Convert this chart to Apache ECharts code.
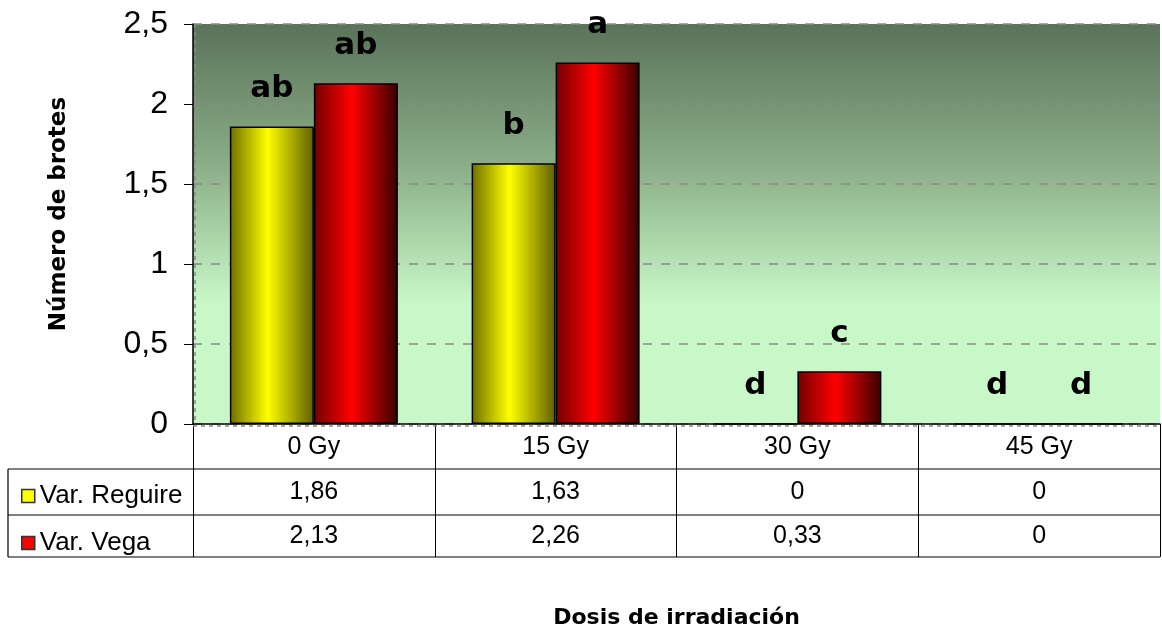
<!DOCTYPE html>
<html>
<head>
<meta charset="utf-8">
<script src="https://cdn.jsdelivr.net/npm/echarts@6/dist/echarts.min.js"></script>
<style>
  html, body { margin: 0; padding: 0; background: #fff; }
  #chart { width: 1162px; height: 628px; }
</style>
</head>
<body>
<div id="chart"></div>
<script>
// datos
const categories = ["0 Gy", "15 Gy", "30 Gy", "45 Gy"];
const reguire = [1.86, 1.63, 0, 0];
const vega = [2.13, 2.26, 0.33, 0];
const reguireLetters = ["ab", "b", "d", "d"];
const vegaLetters = ["ab", "a", "c", "d"];
const yTickLabels = ["0", "0,5", "1", "1,5", "2", "2,5"];

const sansFont = "Liberation Sans";
const titleFont = "DejaVu Sans";

function fmt(v) {
  return String(v).replace(".", ",");
}

function barGradient(dark1, light, dark2) {
  return {
    type: "linear", x: 0, y: 0, x2: 1, y2: 0,
    colorStops: [
      { offset: 0, color: dark1 },
      { offset: 0.45, color: light },
      { offset: 1, color: dark2 }
    ]
  };
}

const letterLabel = (letters) => ({
  show: true,
  position: "top",
  distance: 22,
  fontFamily: titleFont,
  fontWeight: "bold",
  fontSize: 31,
  color: "#000",
  formatter: (p) => letters[p.dataIndex]
});

let option = {
  animation: false,
  grid: {
    left: 193,
    right: 2,
    top: 24,
    bottom: 204,
    outerBoundsMode: "none",
    containLabel: false,
    show: true,
    borderWidth: 0,
    backgroundColor: {
      type: "linear", x: 0, y: 0, x2: 0, y2: 1,
      colorStops: [
        { offset: 0, color: "#5a735a" },
        { offset: 0.35, color: "#8aad87" },
        { offset: 0.7, color: "#c8f8c8" },
        { offset: 1, color: "#c8f8c8" }
      ]
    }
  },
  legend: {
    orient: "vertical",
    left: 16,
    top: 478,
    icon: "rect",
    itemWidth: 13,
    itemHeight: 13,
    itemGap: 21,
    textStyle: {
      fontFamily: sansFont,
      fontSize: 26,
      lineHeight: 25,
      color: "#000"
    },
    data: [
      { name: "Var. Reguire", itemStyle: { color: "#ffff00", borderColor: "#333", borderWidth: 1.5 } },
      { name: "Var. Vega", itemStyle: { color: "#ff0000", borderColor: "#333", borderWidth: 1.5 } }
    ]
  },
  xAxis: {
    type: "category",
    data: categories,
    name: "Dosis de irradiación",
    nameLocation: "middle",
    nameGap: 183,
    nameTextStyle: {
      fontFamily: titleFont,
      fontWeight: "bold",
      fontSize: 22,
      color: "#000"
    },
    axisLine: { lineStyle: { color: "#000", width: 1.5 } },
    axisTick: { show: true, length: 133, lineStyle: { color: "#000", width: 1 } },
    axisLabel: {
      margin: 11,
      fontFamily: sansFont,
      fontSize: 25,
      color: "#000"
    },
    splitLine: { show: false }
  },
  yAxis: {
    type: "value",
    min: 0,
    max: 2.5,
    interval: 0.5,
    name: "Número de brotes",
    nameLocation: "middle",
    nameGap: 122,
    nameTextStyle: {
      fontFamily: titleFont,
      fontWeight: "bold",
      fontSize: 23,
      color: "#000",
      padding: [0, 0, 0, 20]
    },
    axisLine: { show: true, lineStyle: { color: "#000", width: 1.5 } },
    axisTick: { show: true, length: 9, lineStyle: { color: "#000" } },
    axisLabel: {
      margin: 25,
      fontFamily: sansFont,
      fontSize: 32,
      color: "#000",
      formatter: (v, i) => yTickLabels[i]
    },
    splitLine: { show: true, lineStyle: { color: "#8a8a8a", type: [9, 9], width: 1.5 } }
  },
  series: [
    {
      name: "Var. Reguire",
      type: "bar",
      barWidth: 84,
      barGap: "0%",
      itemStyle: {
        color: barGradient("#6e6e00", "#ffff00", "#5e5e00"),
        borderColor: "#000",
        borderWidth: 1.5
      },
      label: letterLabel(reguireLetters),
      data: reguire
    },
    {
      name: "Var. Vega",
      type: "bar",
      barWidth: 84,
      barGap: "0%",
      itemStyle: {
        color: barGradient("#700000", "#ff0000", "#380000"),
        borderColor: "#000",
        borderWidth: 1.5
      },
      label: letterLabel(vegaLetters),
      data: vega
    }
  ]
};

let myChart = echarts.init(document.getElementById("chart"));
myChart.setOption(option);

// tabla de datos debajo del eje
const rowY = [492, 536];
const rows = [reguire, vega];
let elements = [];
[469, 515, 557].forEach((y) => {
  elements.push({
    type: "line",
    shape: { x1: 8, y1: y, x2: 1160, y2: y },
    style: { stroke: "#000", lineWidth: 1.2 }
  });
});
elements.push({
  type: "line",
  shape: { x1: 8, y1: 469, x2: 8, y2: 557 },
  style: { stroke: "#000", lineWidth: 1.2 }
});
// borde punteado del área de trazado
elements.push({
  type: "line",
  shape: { x1: 195, y1: 24, x2: 195, y2: 423 },
  style: { stroke: "#8a8a8a", lineWidth: 1.5, lineDash: [4, 4] },
  z: 5
});
elements.push({
  type: "line",
  shape: { x1: 193, y1: 426, x2: 1160, y2: 426 },
  style: { stroke: "#8a8a8a", lineWidth: 1.5, lineDash: [4, 4] },
  z: 5
});
rows.forEach((vals, r) => {
  vals.forEach((v, i) => {
    let x = myChart.convertToPixel({ xAxisIndex: 0 }, categories[i]);
    elements.push({
      type: "text",
      x: x,
      y: rowY[r],
      style: {
        text: fmt(v),
        fontFamily: sansFont,
        fontSize: 25,
        fill: "#000",
        align: "center",
        verticalAlign: "middle"
      }
    });
  });
});
myChart.setOption({ graphic: { elements: elements } });
</script>
</body>
</html>
